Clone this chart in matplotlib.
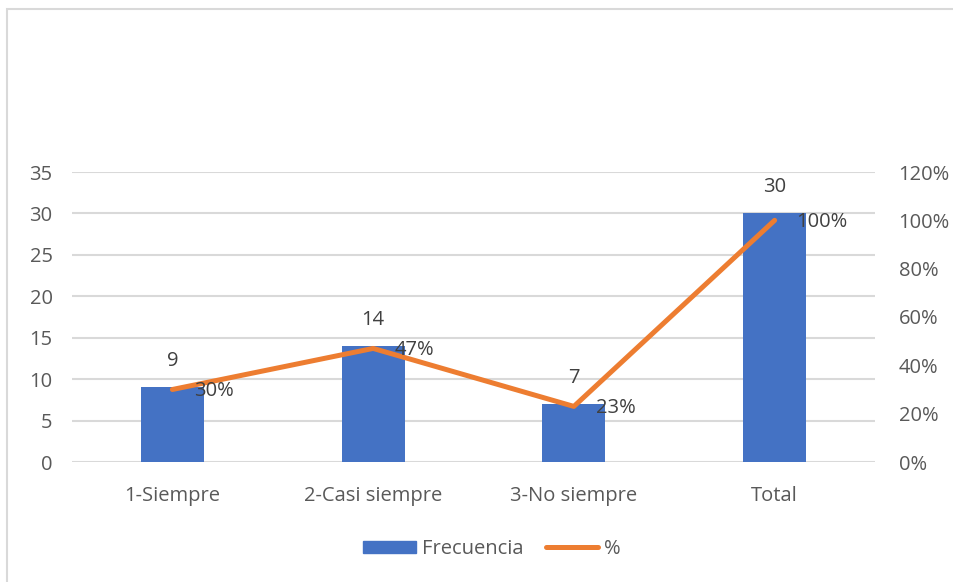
import matplotlib.pyplot as plt
from matplotlib.patches import Rectangle
from matplotlib.lines import Line2D
from matplotlib.patches import Patch

# Frecuencia y porcentaje por categoría
categorias = ['1-Siempre', '2-Casi siempre', '3-No siempre', 'Total']
frecuencia = [9, 14, 7, 30]
porcentaje = [0.30, 0.47, 0.23, 1.00]
etiquetas_pct = ['30%', '47%', '23%', '100%']

y_ticks = [0, 5, 10, 15, 20, 25, 30, 35]
pct_ticks = [0, 0.2, 0.4, 0.6, 0.8, 1.0, 1.2]

azul = '#4472C4'
naranja = '#ED7D31'
gris_txt = '#595959'
gris_dato = '#404040'
gris_rejilla = '#D9D9D9'

plt.rcParams['font.family'] = ['Open Sans', 'DejaVu Sans']
fs = 14.5

fig = plt.figure(figsize=(9.54, 5.82), dpi=100)

# marco del gráfico
fig.patches.append(Rectangle((7 / 954, -0.1), 1.2, 1 - 9 / 582 + 0.1,
                             transform=fig.transFigure, fill=False,
                             edgecolor=gris_rejilla, linewidth=1.5))

ax = fig.add_axes([72 / 954, 1 - 462 / 582, (875 - 72) / 954, (462 - 172) / 582])
x = range(len(categorias))

ax.bar(x, frecuencia, width=0.315, color=azul, zorder=2)
ax.set_ylim(0, 35)
ax.set_xlim(-0.5, len(categorias) - 0.5)
ax.set_yticks(y_ticks)
ax.set_xticks(list(x))
ax.set_xticklabels(categorias)
ax.grid(axis='y', color=gris_rejilla, linewidth=1.5, zorder=0)
ax.set_axisbelow(True)
for s in ax.spines.values():
    s.set_visible(False)
ax.tick_params(axis='both', length=0, labelsize=fs, labelcolor=gris_txt)
ax.tick_params(axis='y', pad=14)
ax.tick_params(axis='x', pad=17)

for i, v in enumerate(frecuencia):
    ax.annotate(str(v), (i, v), xytext=(0, 26), textcoords='offset pixels',
                ha='center', va='center', fontsize=fs, color=gris_dato)

ax2 = ax.twinx()
ax2.plot(list(x), porcentaje, color=naranja, linewidth=3.6,
         solid_capstyle='round', zorder=3)
ax2.set_ylim(0, 1.2)
ax2.set_yticks(pct_ticks)
ax2.set_yticklabels([f'{int(round(t * 100))}%' for t in pct_ticks])
for s in ax2.spines.values():
    s.set_visible(False)
ax2.tick_params(axis='y', length=0, labelsize=fs, labelcolor=gris_txt, pad=17)

for i, (p, lab) in enumerate(zip(porcentaje, etiquetas_pct)):
    ax2.annotate(lab, (i, p), xytext=(22, -2), textcoords='offset pixels',
                 ha='left', va='center', fontsize=fs, color=gris_dato)

# leyenda inferior
handles = [Patch(facecolor=azul, edgecolor=azul),
           Line2D([0], [0], color=naranja, linewidth=3.6, solid_capstyle='round')]
fig.legend(handles, ['Frecuencia', '%'], loc='center', bbox_to_anchor=(492 / 954, 1 - 549 / 582),
           ncol=2, frameon=False, fontsize=fs, labelcolor=gris_txt,
           handlelength=2.6, handleheight=0.6, handletextpad=0.3, columnspacing=1.1)

fig.savefig('out.png', dpi=100)
